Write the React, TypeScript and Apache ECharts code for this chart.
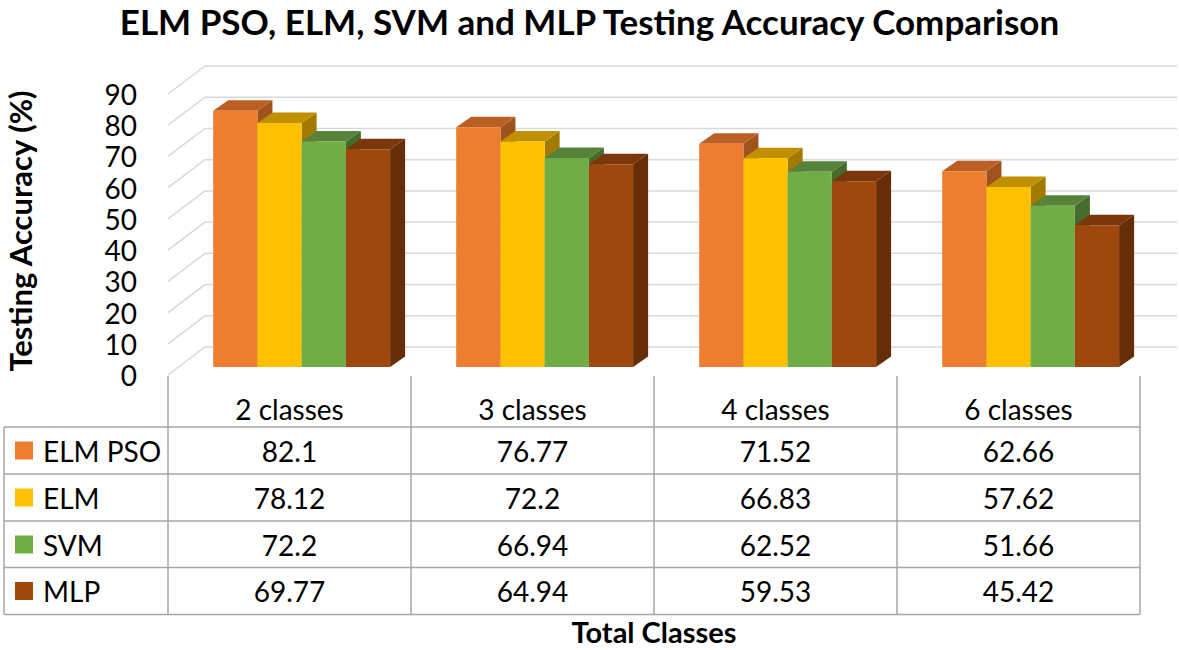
import React, { useEffect, useRef } from "react";
import * as echarts from "echarts";

const categories = ["2 classes", "3 classes", "4 classes", "6 classes"];
const seriesNames = ["ELM PSO", "ELM", "SVM", "MLP"];
const elmPso = [82.1, 76.77, 71.52, 62.66];
const elm = [78.12, 72.2, 66.83, 57.62];
const svm = [72.2, 66.94, 62.52, 51.66];
const mlp = [69.77, 64.94, 59.53, 45.42];
const seriesValues = [elmPso, elm, svm, mlp];
const yTicks = [0, 10, 20, 30, 40, 50, 60, 70, 80, 90];

const frontColors = ["#ED7D31", "#FFC000", "#70AD47", "#9E480E"];
const topColors = ["#BC5F25", "#C09000", "#56823A", "#7B370B"];
const sideColors = ["#A0521D", "#A27A00", "#466C2D", "#652D08"];

const FONT = "Lato, 'Open Sans', sans-serif";
const GRID_LEFT = 168;
const GRID_RIGHT_X = 1140;
const GRID_TOP = 94;
const GRID_BOTTOM_Y = 375;
const W = 1179;
const H = 650;

export default function App() {
  const ref = useRef<HTMLDivElement>(null);

  useEffect(() => {
    document.body.style.margin = "0";
    if (!ref.current) return;
    const chart = echarts.init(ref.current, undefined, { renderer: "svg" });

    const wallSeries = {
      type: "custom",
      name: "wall",
      silent: true,
      clip: false,
      data: yTicks.map((t) => [0, t]),
      encode: { x: 0, y: 1 },
      renderItem: (params: any, api: any) => {
        const v = api.value(1);
        const p = api.coord([0, v]);
        const cs = params.coordSys;
        const x0 = cs.x;
        const y = p[1];
        return {
          type: "polyline",
          shape: {
            points: [
              [x0, y],
              [x0 + 37, y - 28],
              [x0 + cs.width + 37, y - 28],
            ],
          },
          style: { stroke: "#D9D9D9", lineWidth: 1.5, fill: null },
        };
      },
    };

    const barSeries = seriesValues.map((vals, k) => ({
      type: "custom",
      name: seriesNames[k],
      clip: false,
      data: vals.map((v, i) => [i, v]),
      encode: { x: 0, y: 1 },
      renderItem: (params: any, api: any) => {
        const cat = api.value(0);
        const v = api.value(1);
        const base = api.coord([cat, 0]);
        const topP = api.coord([cat, v]);
        const band = api.size([1, 0])[0];
        const bw = band * 0.182;
        const shift = band * 0.05;
        const x = base[0] + shift - 2 * bw + k * bw;
        const yb = base[1] - 8;
        const yt = topP[1] - 8;
        const dx = 15;
        const dy = -10.5;
        return {
          type: "group",
          children: [
            {
              type: "polygon",
              shape: {
                points: [
                  [x + bw, yt],
                  [x + bw + dx, yt + dy],
                  [x + bw + dx, yb + dy],
                  [x + bw, yb],
                ],
              },
              style: { fill: sideColors[k] },
            },
            {
              type: "polygon",
              shape: {
                points: [
                  [x, yt],
                  [x + bw, yt],
                  [x + bw + dx, yt + dy],
                  [x + dx, yt + dy],
                ],
              },
              style: { fill: topColors[k] },
            },
            {
              type: "rect",
              shape: { x, y: yt, width: bw, height: yb - yt },
              style: { fill: frontColors[k] },
            },
          ],
        };
      },
    }));

    // table graphics
    const colW = (GRID_RIGHT_X - GRID_LEFT) / categories.length;
    const rowTops = [427, 474, 521, 567.5];
    const rowH = 47;
    const tableBottom = 614.5;
    const lineColor = "#A6A6A6";
    const graphics: any[] = [];
    [...rowTops, tableBottom].forEach((y) => {
      graphics.push({
        type: "line",
        shape: { x1: 4, y1: y, x2: GRID_RIGHT_X, y2: y },
        style: { stroke: lineColor, lineWidth: 1.5 },
        silent: true,
      });
    });
    graphics.push({
      type: "line",
      shape: { x1: 4, y1: rowTops[0], x2: 4, y2: tableBottom },
      style: { stroke: lineColor, lineWidth: 1.5 },
      silent: true,
    });
    for (let j = 0; j <= categories.length; j++) {
      const x = GRID_LEFT + j * colW;
      graphics.push({
        type: "line",
        shape: { x1: x, y1: GRID_BOTTOM_Y + 1, x2: x, y2: tableBottom },
        style: { stroke: lineColor, lineWidth: 1.5 },
        silent: true,
      });
    }
    seriesNames.forEach((name, r) => {
      const cy = rowTops[r] + rowH / 2;
      graphics.push({
        type: "rect",
        shape: { x: 15, y: cy - 9, width: 18, height: 18 },
        style: { fill: frontColors[r] },
        silent: true,
      });
      graphics.push({
        type: "text",
        x: 43,
        y: cy,
        style: {
          text: name,
          fontSize: 28,
          fontFamily: FONT,
          fill: "#000",
          align: "left",
          verticalAlign: "middle",
        },
        silent: true,
      });
      seriesValues[r].forEach((v, j) => {
        graphics.push({
          type: "text",
          x: GRID_LEFT + (j + 0.5) * colW,
          y: cy,
          style: {
            text: String(v),
            fontSize: 28,
            fontFamily: FONT,
            fill: "#000",
            align: "center",
            verticalAlign: "middle",
          },
          silent: true,
        });
      });
    });
    graphics.push({
      type: "text",
      x: 20,
      y: 231,
      rotation: Math.PI / 2,
      style: {
        text: "Testing Accuracy (%)",
        fontSize: 31,
        fontWeight: "bold",
        fontFamily: FONT,
        fill: "#000",
        align: "center",
        verticalAlign: "middle",
      },
      silent: true,
    });
    graphics.push({
      type: "text",
      x: (GRID_LEFT + GRID_RIGHT_X) / 2,
      y: 631,
      style: {
        text: "Total Classes",
        fontSize: 29,
        lineHeight: 29,
        fontWeight: "bold",
        fontFamily: FONT,
        fill: "#000",
        align: "center",
        verticalAlign: "middle",
      },
      silent: true,
    });
    graphics.push({
      type: "text",
      x: W / 2,
      y: 21,
      style: {
        text: "ELM PSO, ELM, SVM and MLP Testing Accuracy Comparison",
        fontSize: 35,
        lineHeight: 36,
        fontWeight: "bold",
        fontFamily: FONT,
        fill: "#000",
        align: "center",
        verticalAlign: "middle",
      },
      silent: true,
    });

    chart.setOption({
      animation: false,
      backgroundColor: "#FFFFFF",
      grid: {
        left: GRID_LEFT,
        right: W - GRID_RIGHT_X,
        top: GRID_TOP,
        height: GRID_BOTTOM_Y - GRID_TOP,
        containLabel: false,
      },
      xAxis: {
        type: "category",
        data: categories,
        axisLine: { show: false },
        axisTick: { show: false },
        splitLine: { show: false },
        axisLabel: {
          show: true,
          margin: 20,
          fontSize: 28,
          lineHeight: 28,
          fontFamily: FONT,
          color: "#000",
        },
      },
      yAxis: {
        type: "value",
        min: 0,
        max: 90,
        interval: 10,
        axisLine: { show: false },
        axisTick: { show: false },
        splitLine: { show: false },
        axisLabel: {
          margin: 31,
          fontSize: 28,
          fontFamily: FONT,
          color: "#000",
        },
      },
      series: [wallSeries, ...barSeries],
      graphic: graphics,
    });

    return () => {
      chart.dispose();
    };
  }, []);

  return <div ref={ref} style={{ width: W, height: H }} />;
}
